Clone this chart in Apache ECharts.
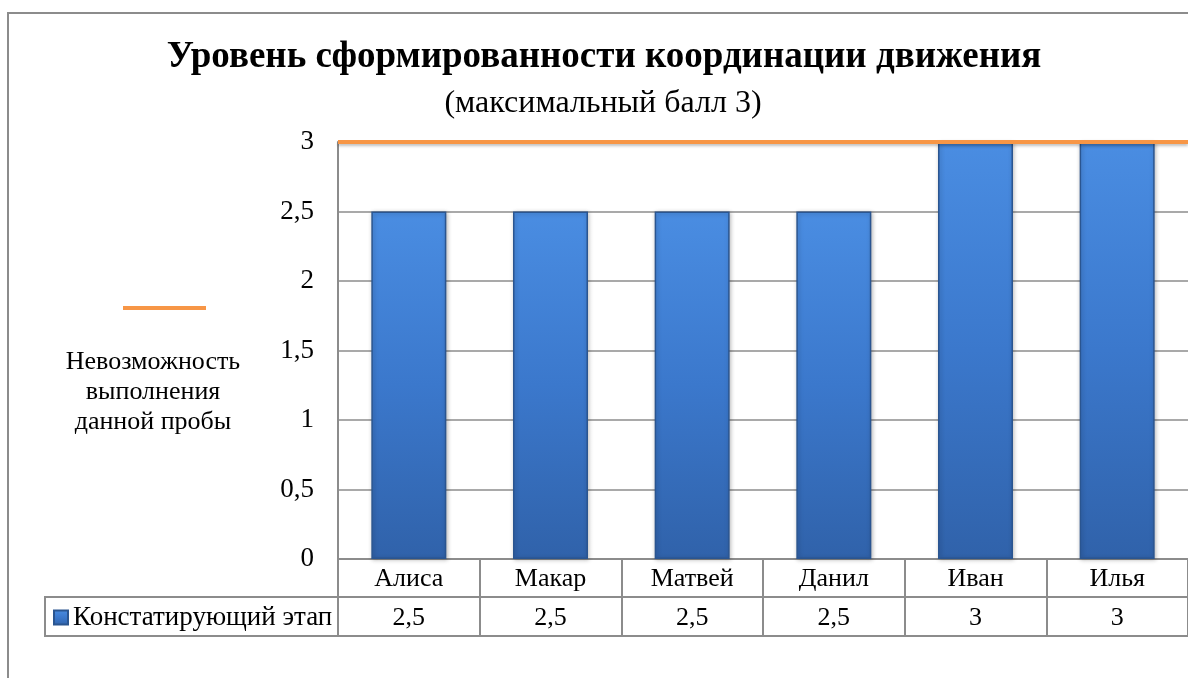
<!DOCTYPE html>
<html>
<head>
<meta charset="utf-8">
<script src="https://cdn.jsdelivr.net/npm/echarts@6/dist/echarts.min.js"></script>
<style>html,body{margin:0;padding:0;background:#fff;}#c{width:1188px;height:678px;}</style>
</head>
<body>
<div id="c"></div>
<script>
const categories = ['Алиса', 'Макар', 'Матвей', 'Данил', 'Иван', 'Илья'];
const stageValues = [2.5, 2.5, 2.5, 2.5, 3, 3];
const maxLineValues = [3, 3, 3, 3, 3, 3];
const yTicks = { min: 0, max: 3, interval: 0.5 };
const barSeriesName = 'Констатирующий этап';
const lineSeriesName = 'Невозможность выполнения данной пробы';
const titleText = 'Уровень сформированности координации движения';
const subtitleText = '(максимальный балл 3)';
const lineLegendLabel = 'Невозможность\nвыполнения\nданной пробы';

const FONT = "'Liberation Serif', 'Times New Roman', serif";
const GRAY = '#8c8c8c';
const fmt = v => String(v).replace('.', ',');

const chart = echarts.init(document.getElementById('c'));
const common = { type: 'category', data: categories, gridIndex: 0, position: 'bottom' };
chart.setOption({
  animation: false,
  backgroundColor: '#fff',
  legend: [
    { data: [lineSeriesName], left: 123, top: 306, icon: 'rect', itemWidth: 83, itemHeight: 4,
      formatter: () => '', selectedMode: false, padding: 0 },
    { data: [barSeriesName], left: 53, top: 604, icon: 'rect', itemWidth: 14, itemHeight: 14, itemGap: 6,
      selectedMode: false, padding: 0,
      textStyle: { fontFamily: FONT, fontSize: 27, color: '#000', padding: [2, 0, 0, 0] } }
  ],
  grid: { left: 338, top: 142, width: 862, height: 417, containLabel: false },
  xAxis: [
    Object.assign({}, common, {
      axisLine: { show: true, lineStyle: { color: GRAY, width: 2 } },
      axisTick: { show: true, length: 77, lineStyle: { color: GRAY, width: 2 } },
      axisLabel: { fontFamily: FONT, fontSize: 26, color: '#000', margin: 7 }
    }),
    Object.assign({}, common, {
      offset: 38,
      axisLine: { show: true, lineStyle: { color: GRAY, width: 2 } },
      axisTick: { show: false },
      axisLabel: { fontFamily: FONT, fontSize: 26, color: '#000', margin: 8,
        formatter: (v, i) => fmt(stageValues[i]) }
    }),
    Object.assign({}, common, {
      offset: 77,
      axisLine: { show: true, lineStyle: { color: GRAY, width: 2 } },
      axisTick: { show: false },
      axisLabel: { show: false }
    }),
    Object.assign({}, common, { show: false, boundaryGap: false })
  ],
  yAxis: {
    type: 'value', min: yTicks.min, max: yTicks.max, interval: yTicks.interval,
    axisLine: { show: true, lineStyle: { color: GRAY, width: 2 } },
    axisTick: { show: false },
    splitLine: { show: true, lineStyle: { color: GRAY, width: 1.5 } },
    axisLabel: { fontFamily: FONT, fontSize: 27, color: '#000', margin: 24, formatter: v => fmt(v) }
  },
  graphic: [
    { type: 'rect', shape: { x: 8, y: 13, width: 1300, height: 800 }, silent: true, z: -1,
      style: { fill: 'none', stroke: GRAY, lineWidth: 2 } },
    { type: 'rect', shape: { x: 45, y: 597, width: 293, height: 39 }, silent: true,
      style: { fill: 'none', stroke: GRAY, lineWidth: 2 } },
    { type: 'text', x: 604, y: 57, silent: true,
      style: { text: titleText, align: 'center', verticalAlign: 'middle', fill: '#000',
        font: "bold 37px 'Liberation Serif', 'Times New Roman', serif" } },
    { type: 'text', x: 603, y: 104, silent: true,
      style: { text: subtitleText, align: 'center', verticalAlign: 'middle', fill: '#000',
        font: "32px 'Liberation Serif', 'Times New Roman', serif" } },
    { type: 'text', x: 153, y: 392, silent: true,
      style: { text: lineLegendLabel, align: 'center', verticalAlign: 'middle', fill: '#000',
        lineHeight: 30, font: "26px 'Liberation Serif', 'Times New Roman', serif" } }
  ],
  series: [
    {
      name: barSeriesName, type: 'bar', xAxisIndex: 0, data: stageValues, barWidth: 75, z: 2,
      itemStyle: {
        color: new echarts.graphic.LinearGradient(0, 0, 0, 1, [
          { offset: 0, color: '#4a8de2' },
          { offset: 0.5, color: '#3b78cc' },
          { offset: 1, color: '#3062aa' }
        ]),
        borderColor: '#2a5590', borderWidth: 1.5,
        shadowColor: 'rgba(0,0,0,0.25)', shadowBlur: 4, shadowOffsetX: 1, shadowOffsetY: 1
      }
    },
    {
      name: lineSeriesName, type: 'line', xAxisIndex: 3, data: maxLineValues, z: 5,
      symbol: 'none', color: '#f79646',
      lineStyle: { color: '#f79646', width: 4, shadowColor: 'rgba(0,0,0,0.25)', shadowBlur: 3, shadowOffsetY: 2 }
    }
  ]
});
</script>
</body>
</html>
